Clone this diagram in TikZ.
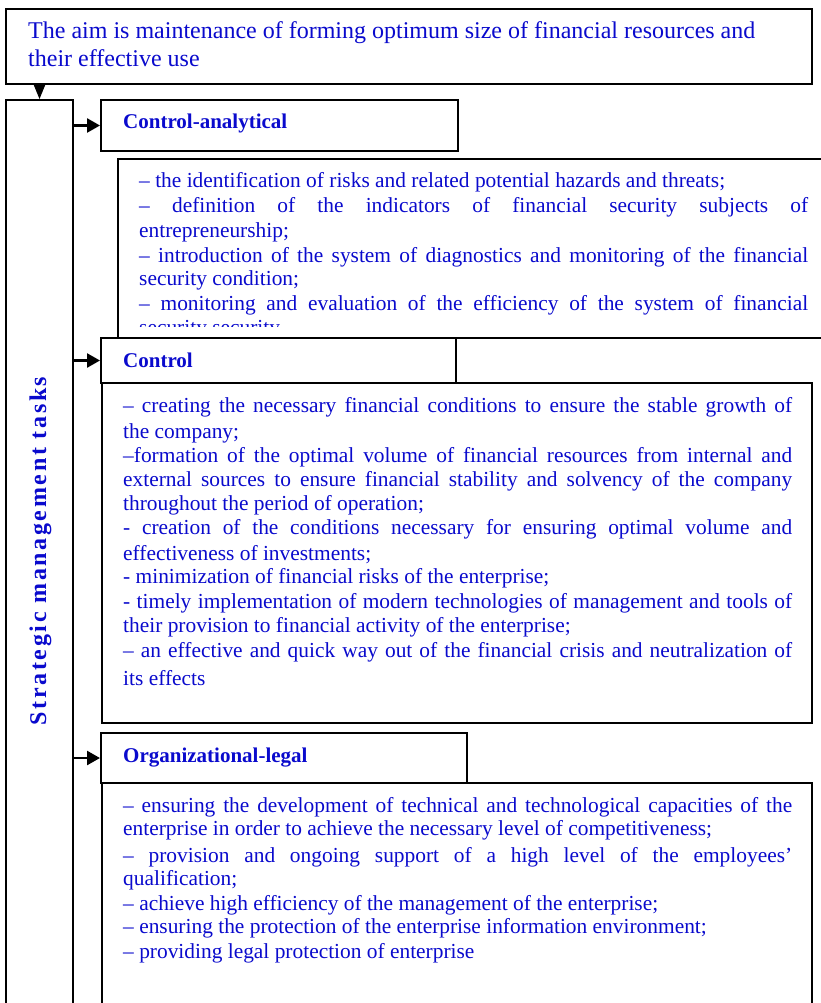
\documentclass[tikz,border=0pt]{standalone}
\usepackage{fontspec}
\setmainfont{Liberation Serif}
\newfontfamily\vertfont[LetterSpace=11]{Liberation Serif}
\usetikzlibrary{arrows.meta}
\definecolor{txt}{RGB}{10,10,205}
\begin{document}
\begin{tikzpicture}[x=1pt,y=-1pt,
  box/.style={draw=black, line width=2pt, anchor=north west, inner sep=0pt, fill=white},
  arr/.style={line width=2.5pt, -{Triangle[length=13pt,width=14pt]}},
  downarr/.style={line width=1pt, -{Triangle[length=15pt,width=12pt]}},
  body/.style={anchor=base west, inner sep=0pt, text=txt, font=\fontsize{21.4}{24}\selectfont},
  head/.style={anchor=base west, inner sep=0pt, text=txt, font=\fontsize{21}{24}\selectfont\bfseries},
  aimtext/.style={anchor=base west, inner sep=0pt, text=txt, font=\fontsize{24}{28}\selectfont},
]
\useasboundingbox[fill=white] (0,0) rectangle (821,1003);

% boxes
\node[box, minimum width=806pt, minimum height=75pt] (aim) at (5,8) {};
\node[box, minimum width=67pt, minimum height=940pt] (side) at (5,99) {};
\node[box, minimum width=357pt, minimum height=51pt] (ca) at (100,99) {};
\node[box, minimum width=730pt, minimum height=179pt] (cab) at (117,158) {};

% text of the first content box (clipped)
\begin{scope}
\clip (117,159) rectangle (830,326);
\foreach \yy/\m/\t [count=\i] in {
  187/l/{– the identification of risks and related potential hazards and threats;},
  212/s/{– definition of the indicators of financial security subjects of},
  237/l/{entrepreneurship;},
  262/s/{– introduction of the system of diagnostics and monitoring of the financial},
  285/l/{security condition;},
  310/s/{– monitoring and evaluation of the efficiency of the system of financial},
  334/l/{security security}}
  {\node[body, name=a\i] at (139,\yy) {\makebox[669pt][\m]{\t}};}
\end{scope}

\node[box, minimum width=355pt, minimum height=45pt] (ctl) at (100,337) {};
\node[box, minimum width=710pt, minimum height=340pt] (ctlb) at (101,382) {};
\node[box, minimum width=366pt, minimum height=50pt] (org) at (100,732) {};
\node[box, minimum width=710pt, minimum height=260pt] (orgb) at (101,782) {};

% connectors
\draw[downarr] (aim.south -| side.north) -- (side.north);
\draw[arr] (side.east |- ca.west) -- (ca.west);
\draw[arr] (side.east |- ctl.west) -- (ctl.west);
\draw[arr] (side.east |- org.west) -- (org.west);

% aim text
\node[aimtext] (aim1) at (28,39) {The aim is maintenance of forming optimum size of financial resources and};
\node[aimtext] (aim2) at (28,67) {their effective use};

% vertical label
\node[rotate=90, anchor=base, inner sep=0pt, text=txt, font=\vertfont\fontsize{24}{28}\selectfont\bfseries] (sidelabel) at (46,551) {Strategic management tasks};

% headers
\node[head] (calabel) at (123,129) {Control-analytical};
\node[head] (ctllabel) at (123,367) {Control};
\node[head] (orglabel) at (123,762) {Organizational-legal};

% control content
\foreach \yy/\m/\t [count=\i] in {
  412/s/{– creating the necessary financial conditions to ensure the stable growth of},
  438/l/{the company;},
  462/s/{–formation of the optimal volume of financial resources from internal and},
  486/s/{external sources to ensure financial stability and solvency of the company},
  510/l/{throughout the period of operation;},
  534/s/{- creation of the conditions necessary for ensuring optimal volume and},
  560/l/{effectiveness of investments;},
  583/l/{- minimization of financial risks of the enterprise;},
  608/s/{- timely implementation of modern technologies of management and tools of},
  632/l/{their provision to financial activity of the enterprise;},
  657/s/{– an effective and quick way out of the financial crisis and neutralization of},
  685/l/{its effects}}
  {\node[body, name=b\i] at (123,\yy) {\makebox[669pt][\m]{\t}};}

% organizational-legal content
\foreach \yy/\m/\t [count=\i] in {
  812/s/{– ensuring the development of technical and technological capacities of the},
  835/l/{enterprise in order to achieve the necessary level of competitiveness;},
  862/s/{– provision and ongoing support of a high level of the employees’},
  885/l/{qualification;},
  910/l/{– achieve high efficiency of the management of the enterprise;},
  933/l/{– ensuring the protection of the enterprise information environment;},
  958/l/{– providing legal protection of enterprise}}
  {\node[body, name=c\i] at (123,\yy) {\makebox[669pt][\m]{\t}};}
\end{tikzpicture}
\end{document}
